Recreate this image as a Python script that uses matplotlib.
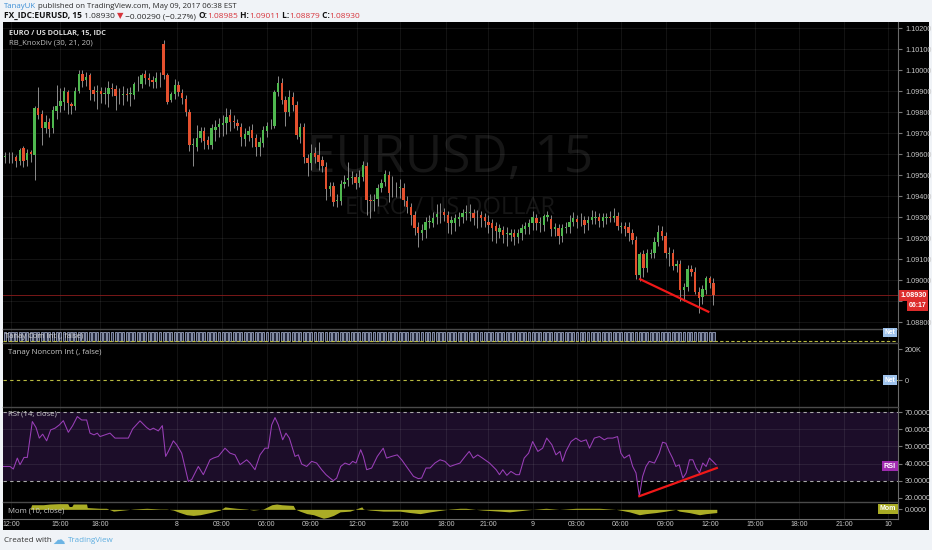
import matplotlib
matplotlib.use('Agg')
import matplotlib.pyplot as plt
import numpy as np
from matplotlib.text import Annotation

plt.rcParams['font.family'] = ['Open Sans', 'DejaVu Sans']

# ---- price data, value = (price - 1) * 100000 ----
opens = [9587, 9586, 9588, 9587, 9567, 9627, 9572, 9611, 9595, 9818,
         9789, 9722, 9751, 9722, 9805, 9830, 9849, 9897, 9837, 9830,
         9900, 9980, 9953, 9976, 9905, 9896, 9900, 9888, 9884, 9916,
         9908, 9880, 9883, 9885, 9888, 9881, 9931, 9932, 9980, 9964,
         9953, 9942, 9960, 10122, 9976, 9857, 9884, 9929, 9889, 9862,
         9802, 9645, 9635, 9675, 9710, 9667, 9643, 9714, 9730, 9738,
         9746, 9786, 9755, 9749, 9730, 9670, 9690, 9714, 9675, 9632,
         9654, 9711, 9737, 9733, 9897, 9940, 9857, 9802, 9873, 9833,
         9683, 9730, 9579, 9556, 9603, 9595, 9571, 9540, 9432, 9448,
         9377, 9378, 9457, 9476, 9488, 9489, 9463, 9492, 9543, 9379,
         9377, 9384, 9437, 9468, 9500, 9424, 9436, 9439, 9440, 9378,
         9346, 9310, 9254, 9222, 9238, 9277, 9273, 9298, 9313, 9325,
         9310, 9270, 9273, 9289, 9302, 9317, 9320, 9317, 9309, 9310,
         9299, 9278, 9270, 9257, 9230, 9238, 9221, 9214, 9222, 9206,
         9222, 9241, 9251, 9270, 9294, 9270, 9262, 9299, 9289, 9241,
         9246, 9210, 9246, 9254, 9278, 9289, 9285, 9286, 9270, 9286,
         9297, 9298, 9283, 9297, 9299, 9294, 9305, 9253, 9257, 9254,
         9225, 9190, 9024, 9124, 9056, 9124, 9127, 9183, 9235, 9210,
         9126, 9127, 9067, 9076, 8952, 8968, 9051, 9040, 8945, 8917,
         8952, 9008, 8985]
closes = [9588, 9588, 9585, 9567, 9619, 9567, 9603, 9600, 9818, 9786,
          9722, 9754, 9719, 9810, 9830, 9852, 9900, 9842, 9830, 9900,
          9980, 9950, 9969, 9905, 9884, 9898, 9884, 9890, 9916, 9908,
          9878, 9882, 9885, 9883, 9890, 9932, 9933, 9976, 9964, 9953,
          9945, 9961, 9962, 9976, 9849, 9884, 9929, 9894, 9869, 9802,
          9643, 9647, 9678, 9710, 9662, 9643, 9722, 9730, 9742, 9746,
          9778, 9751, 9753, 9733, 9680, 9695, 9711, 9675, 9632, 9659,
          9714, 9733, 9739, 9897, 9940, 9857, 9802, 9873, 9833, 9690,
          9730, 9587, 9556, 9606, 9587, 9563, 9545, 9432, 9448, 9373,
          9379, 9457, 9468, 9484, 9490, 9463, 9492, 9548, 9381, 9377,
          9379, 9437, 9463, 9505, 9413, 9426, 9438, 9441, 9381, 9349,
          9310, 9246, 9225, 9238, 9278, 9279, 9294, 9314, 9315, 9310,
          9273, 9286, 9294, 9302, 9317, 9325, 9322, 9294, 9311, 9294,
          9283, 9262, 9246, 9235, 9246, 9214, 9223, 9225, 9206, 9225,
          9246, 9257, 9270, 9298, 9270, 9278, 9305, 9310, 9241, 9251,
          9210, 9246, 9254, 9278, 9294, 9278, 9287, 9262, 9286, 9302,
          9299, 9283, 9298, 9299, 9297, 9305, 9257, 9255, 9241, 9225,
          9190, 9024, 9124, 9056, 9127, 9130, 9183, 9230, 9210, 9127,
          9128, 9067, 9076, 8952, 8968, 9051, 9040, 8945, 8913, 8956,
          9008, 8984, 8930]
# wick lengths in pips above / below the body
wick_up = [2, 2, 2, 1, 1, 1, 2, 1, 1, 10, 2, 3, 2, 2, 10, 6, 2, 1, 1, 2,
           2, 2, 2, 1, 2, 3, 2, 3, 3, 2, 2, 3, 4, 3, 3, 1, 4, 1, 2, 2,
           2, 3, 3, 2, 1, 1, 3, 2, 2, 2, 1, 3, 6, 2, 2, 2, 2, 3, 3, 4,
           4, 3, 3, 2, 2, 3, 2, 3, 2, 2, 2, 2, 3, 1, 3, 2, 2, 3, 2, 2,
           2, 2, 2, 4, 3, 6, 2, 2, 2, 2, 3, 2, 3, 8, 3, 2, 3, 2, 2, 3,
           3, 2, 2, 2, 2, 7, 3, 4, 2, 2, 2, 2, 2, 3, 2, 3, 3, 5, 5, 2,
           2, 2, 2, 2, 2, 3, 4, 2, 2, 2, 2, 3, 2, 2, 2, 2, 3, 2, 2, 2,
           2, 2, 2, 3, 2, 2, 1, 2, 2, 2, 2, 2, 2, 3, 3, 2, 3, 2, 2, 3,
           3, 2, 2, 2, 3, 4, 2, 2, 2, 2, 2, 2, 1, 2, 2, 2, 2, 3, 2, 2,
           3, 2, 2, 2, 2, 2, 2, 2, 2, 2, 1, 1, 2.6]
wick_dn = [3, 3, 3, 3, 2, 3, 3, 4, 12, 2, 8, 2, 4, 2, 4, 3, 4, 5, 4, 2,
           1, 3, 3, 5, 3, 8, 4, 5, 6, 3, 7, 4, 5, 3, 6, 2, 3, 2, 3, 3,
           3, 3, 4, 2, 1, 1, 2, 2, 3, 2, 3, 10, 2, 2, 4, 2, 2, 5, 5, 5,
           5, 4, 3, 2, 4, 3, 3, 4, 4, 4, 2, 3, 2, 1, 2, 2, 7, 2, 3, 2,
           3, 3, 6, 3, 3, 4, 3, 5, 3, 2, 3, 2, 2, 3, 3, 3, 2, 2, 7, 8,
           5, 3, 2, 2, 4, 3, 4, 5, 3, 3, 5, 3, 7, 3, 4, 3, 2, 3, 4, 3,
           5, 5, 4, 3, 3, 3, 4, 3, 6, 4, 3, 4, 6, 6, 3, 4, 6, 3, 4, 3,
           3, 2, 3, 3, 3, 4, 3, 2, 3, 3, 4, 3, 2, 3, 2, 3, 3, 4, 3, 2,
           3, 3, 3, 3, 2, 2, 2, 3, 3, 4, 2, 2, 3, 4, 2, 2, 2, 2, 2, 2,
           6, 2, 3, 5, 5, 2, 2, 1, 7, 3, 2, 2, 5.1]

# ---- RSI (14, close): bar position, value ----
rsi_x = [-0.45, 1.36, 2.26, 3.34, 4.07, 5.15, 6.05, 7.41, 8.40, 9.30, 10.21, 11.29, 12.38, 13.55,
         14.72, 15.81, 17.16, 18.34, 19.60, 20.78, 22.13, 23.04, 24.12, 25.02, 25.75, 27.10, 28.46,
         29.81, 32.07, 33.42, 34.60, 36.59, 38.39, 39.30, 40.20, 41.55, 42.64, 43.54, 44.26, 45.62,
         46.52, 47.88, 49.68, 50.59, 52.39, 53.75, 55.56, 56.46, 57.81, 59.62, 60.98, 62.33, 63.69,
         65.49, 66.40, 67.75, 69.11, 70.46, 71.36, 72.27, 73.17, 74.08, 75.25, 76.15, 77.06, 78.59,
         79.49, 80.40, 81.75, 83.11, 84.46, 85.82, 86.99, 88.08, 88.98, 89.88, 90.97, 92.14, 93.32,
         94.22, 95.12, 96.39, 97.11, 98.01, 99.37, 100.9, 102.5, 103.4, 104.8, 106.3, 107.5, 108.8,
         110.7, 112.0, 112.9, 114.1, 115.2, 116.5, 117.9, 119.2, 120.6, 121.9, 123.3, 124.7,
         125.8, 126.9, 128.1, 129.4, 131.3, 133.1, 134.0, 134.9, 136.0, 137.1, 138.5, 139.4, 140.7,
         141.9, 143.0, 144.4, 145.7, 146.8, 148.2, 149.3, 150.4, 151.1, 152.0, 153.4, 154.7, 156.1,
         157.5, 158.4, 159.7, 161.1, 162.4, 163.3, 164.7, 166.0, 166.9, 167.8, 169.2, 170.1, 171.0,
         171.9, 172.8, 173.7, 174.6, 176.0, 177.3, 178.2, 179.1, 180.0, 180.9, 181.8, 182.7, 183.7,
         184.6, 185.5, 186.4, 187.3, 188.2, 189.1, 190.0, 190.9, 191.8, 192.7]
rsi_v = [38.3, 38.3, 36.8, 43.2, 39.3, 43.6, 43.6, 64.6, 61.1, 54.9, 57.2, 53.3, 59.7, 60.7,
         62.6, 65.1, 58.3, 62.2, 67.5, 65.5, 65.5, 57.8, 56.8, 57.8, 55.8, 56.8, 57.8,
         54.9, 54.9, 54.9, 60.3, 65.0, 61.1, 59.7, 60.7, 59.1, 62.2, 44.2, 47.1, 53.3,
         51.0, 46.1, 29.6, 30.6, 38.3, 33.5, 42.2, 43.2, 44.2, 49.0, 46.1, 45.1, 39.3,
         42.2, 40.3, 36.4, 45.1, 49.0, 49.0, 62.6, 66.9, 62.6, 53.9, 57.8, 54.9, 44.2,
         45.1, 39.7, 38.3, 41.3, 40.3, 36.4, 33.5, 31.5, 30.0, 31.5, 38.3, 40.3, 39.3,
         41.3, 40.3, 48.1, 44.2, 36.4, 37.4, 44.2, 49.0, 43.2, 44.2, 45.1, 42.2, 38.3,
         32.5, 31.2, 31.5, 37.4, 37.4, 40.3, 42.2, 41.3, 38.3, 39.3, 40.3, 44.2,
         47.1, 43.2, 45.1, 43.2, 40.3, 36.4, 33.5, 36.4, 33.1, 35.4, 33.5, 33.5, 43.2,
         46.1, 52.9, 47.1, 49.0, 54.9, 51.0, 45.1, 47.1, 41.3, 47.1, 52.9, 54.9, 52.9,
         53.9, 49.0, 54.9, 55.8, 53.9, 54.9, 54.9, 55.8, 46.1, 43.2, 45.1, 38.3, 34.5,
         20.9, 32.5, 38.3, 41.3, 40.3, 46.1, 52.5, 51.9, 47.1, 43.2, 38.3, 39.3, 31.5,
         34.5, 42.2, 42.2, 37.4, 34.5, 40.3, 38.3, 43.2, 41.3, 39.3]

# ---- Mom (10, close) ----
mom_x = [-0.45, 6.77, 7.23, 10.4, 12.2, 14.5, 17.0, 17.4, 18.1, 18.5, 22.1, 22.3, 25.7, 27.5,
         29.4, 32.1, 34.8, 38.4, 42.0, 43.8, 45.6, 47.4, 49.2, 51.0, 52.9, 55.6, 58.3, 59.6,
         61.0, 62.8, 65.5, 67.3, 70.0, 72.3, 73.6, 75.0, 78.1, 78.6, 79.9, 81.8, 83.6, 86.3,
         87.6, 89.0, 90.8, 93.5, 96.7, 97.1, 98.9, 102.5, 104.8, 107.0, 109.8, 112.5, 115.2,
         117.9, 120.6, 123.3, 124.9, 129.4, 134.0, 136.7, 139.4, 143.0, 146.6, 150.2, 154.7,
         161.1, 165.6, 169.2, 171.9, 173.7, 176.4, 179.1, 181.8, 182.7, 185.4, 188.2, 190.0, 192.9]
mom_v = [0, 0, 0.0026, 0.0026, 0.0030, 0.0032, 0.0032, 0.0016, 0.0016, 0.0030, 0.0030, 0.0010,
         0.0006, 0.0006, -0.0010, -0.0004, 0.0002, 0.0006, 0.0002, 0.0002, -0.0004, -0.0018,
         -0.0030, -0.0034, -0.0030, -0.0018, -0.0004, 0.0014, 0.0010, 0.0006, 0.0002, -0.0004,
         0.0002, 0.0026, 0.0030, 0.0026, 0.0022, 0.0002, -0.0010, -0.0024, -0.0030, -0.0050,
         -0.0044, -0.0034, -0.0014, -0.0010, 0.0014, 0.0002, -0.0004, -0.0010, -0.0010, -0.0010,
         -0.0018, -0.0024, -0.0014, -0.0006, 0.0002, 0.0006, 0.0006, -0.0004, -0.0010, -0.0014,
         -0.0008, 0.0, 0.0006, 0.0, 0.0006, 0.0006, 0.0, -0.0014, -0.0030, -0.0024, -0.0018,
         -0.0010, 0.0, -0.0010, -0.0018, -0.0030, -0.0024, -0.0018]

time_pos = [1.6, 14.9, 25.7, 46.6, 58.8, 71.0, 82.9, 95.4, 107.0, 119.5, 130.9,
            143.1, 155.0, 166.9, 179.1, 191.1, 203.3, 215.2, 227.4, 239.3]
time_lab = ['12:00', '15:00', '18:00', '8', '03:00', '06:00', '09:00', '12:00', '15:00', '18:00',
            '21:00', '9', '03:00', '06:00', '09:00', '12:00', '15:00', '18:00', '21:00', '10']
price_ticks = [1.088, 1.089, 1.090, 1.091, 1.092, 1.093, 1.094, 1.095, 1.096, 1.097,
               1.098, 1.099, 1.100, 1.101, 1.102]
rsi_ticks = [20, 30, 40, 50, 60, 70]

price_div_x, price_div_y = [172.1, 190.6], [1.09004, 1.08849]
rsi_div_x, rsi_div_y = [171.9, 192.9], [20.9, 37.4]
last_price = 1.08930

o = 1 + np.array(opens) / 1e5
c = 1 + np.array(closes) / 1e5
hi = np.maximum(o, c) + np.array(wick_up) / 1e4
lo = np.minimum(o, c) - np.array(wick_dn) / 1e4
bars = np.arange(len(o))

W, H = 932, 550
fig = plt.figure(figsize=(W / 100, H / 100), dpi=100, facecolor='#f0f3f7')


def box(top, bot, left=3, right=898):
    return [left / W, 1 - bot / H, (right - left) / W, (bot - top) / H]


def px(x, y):
    return x / W, 1 - y / H


bg = fig.add_axes(box(22, 530, 3, 929))
bg.set_facecolor('#000000')
bg.set_xticks([])
bg.set_yticks([])
for s in bg.spines.values():
    s.set_visible(False)

ax_p = fig.add_axes(box(22, 329))
ax_c = fig.add_axes(box(329, 343))
ax_n = fig.add_axes(box(343, 407))
ax_r = fig.add_axes(box(407, 501.5))
ax_m = fig.add_axes(box(501.5, 519))
panels = [ax_p, ax_c, ax_n, ax_r, ax_m]

grid_kw = dict(color='white', alpha=0.075, lw=0.8)
for ax in panels:
    ax.set_facecolor('none')
    ax.set_xlim(-0.54, 242.0)
    ax.set_xticks(time_pos)
    ax.xaxis.grid(True, **grid_kw)
    ax.set_axisbelow(True)
    ax.tick_params(axis='x', length=0, labelbottom=False)
    ax.yaxis.tick_right()
    ax.tick_params(axis='y', length=3, color='#777777', labelcolor='#c8c8c8',
                   labelsize=5.2, pad=2, labelfontfamily='Liberation Sans')
    for name, s in ax.spines.items():
        s.set_visible(name in ('right', 'top'))
    ax.spines['right'].set_color('#6a6a6a')
    ax.spines['right'].set_linewidth(0.8)
    ax.spines['top'].set_color('#4a4a4a')
    ax.spines['top'].set_linewidth(1.0)
ax_p.spines['top'].set_visible(False)

# ---- price panel ----
ax_p.set_ylim(1.087667, 1.102286)
ax_p.set_yticks(price_ticks, ['' if abs(p - 1.089) < 1e-9 else f'{p:.5f}' for p in price_ticks])
ax_p.yaxis.grid(True, **grid_kw)
up = c >= o
cols = np.where(up, '#4fb84f', '#e4502e')
ax_p.vlines(bars, lo, hi, color='#8c8c8c', lw=0.7, zorder=2)
ax_p.bar(bars, np.maximum(np.abs(c - o), 0.000012), bottom=np.minimum(o, c),
         width=0.65, color=cols, lw=0, zorder=3)
ax_p.axhline(last_price, color='#8b1c1c', lw=0.6, zorder=1)
ax_p.plot(price_div_x, price_div_y, color='#f01818', lw=1.6, zorder=4)
ax_p.text(0.4995, 0.555, 'EURUSD, 15', transform=ax_p.transAxes, ha='center', va='center',
          fontsize=37, color='#161616', zorder=0)
ax_p.text(0.4995, 0.395, 'EURO / US DOLLAR', transform=ax_p.transAxes, ha='center',
          va='center', fontsize=17, color='#161616', zorder=0)

# ---- Tanay Com Int strip ----
com_vals = np.ones(len(o))
ax_c.set_ylim(-0.16, 1.33)
ax_c.set_yticks([])
ax_c.bar(bars, com_vals, width=0.62, color='#262b40', edgecolor='#b3bedc', lw=0.5, zorder=2)
ax_c.axhline(0, color='#b8ba40', lw=0.8, ls=(0, (3, 2)), zorder=3)

# ---- Tanay Noncom Int ----
ax_n.set_ylim(-174, 238.7)
ax_n.set_yticks([0, 200], ['0', '200K'])
ax_n.axhline(0, color='#b8ba40', lw=0.8, ls=(0, (3, 3)))

# ---- RSI ----
ax_r.set_ylim(17.8, 73.1)
ax_r.set_yticks(rsi_ticks, [f'{v:.4f}' for v in rsi_ticks])
ax_r.axhspan(30, 70, color='#1c0d29', lw=0, zorder=0)
for lvl in (40, 50, 60):
    ax_r.axhline(lvl, zorder=1, **grid_kw)
for lvl in (30, 70):
    ax_r.axhline(lvl, color='#a9a9a9', lw=0.8, ls=(0, (3, 3)), zorder=2)
ax_r.plot(rsi_x, rsi_v, color='#9a3fb8', lw=0.75, zorder=3)
ax_r.plot(rsi_div_x, rsi_div_y, color='#f01818', lw=1.6, zorder=4)

# ---- Momentum ----
ax_m.set_ylim(-0.0054, 0.0044)
ax_m.set_yticks([0], ['0.0000'])
ax_m.fill_between(mom_x, mom_v, 0, color='#abad26', lw=0, zorder=2)
ax_m.tick_params(axis='x', labelbottom=True, labelcolor='#c8c8c8', labelsize=5,
                 pad=1.5, labelfontfamily='Liberation Sans')
ax_m.set_xticks(time_pos, time_lab)
ax_m.spines['bottom'].set_visible(True)
ax_m.spines['bottom'].set_color('#6a6a6a')

# ---- right-axis badges ----
def badge(x, y, s, fc, tc='white', size=5.2):
    fig.text(*px(x, y), s, ha='center', va='center', color=tc, fontsize=size,
             family='Liberation Sans', weight='bold',
             bbox=dict(boxstyle='square,pad=0.22', fc=fc, ec='none'), zorder=6)

badge(913.5, 295.5, '1.08930', '#dd2c2c', size=5.2)
badge(917.5, 305.5, '06:17', '#dd2c2c', size=5.0)
badge(890, 332.5, 'Net', '#9fc3ec', size=4.8)
badge(890, 380, 'Net', '#9fc3ec', size=4.8)
badge(890, 466, 'RSI', '#a02bb0', size=5.2)
badge(888, 509, 'Mom', '#a8ab24', size=5.0)

# ---- panel titles ----
fig.text(*px(9, 33.5), 'EURO / US DOLLAR, 15, IDC', color='#d8d8d8', fontsize=5.3,
         weight='bold', va='center')
fig.text(*px(9, 43.5), 'RB_KnoxDiv (30, 21, 20)', color='#bdbdbd', fontsize=5.6, va='center')
fig.text(*px(5, 337), 'Tanay Com Int (, false)', color='#d0d0d0', fontsize=5.5, va='center')
fig.text(*px(8, 353), 'Tanay Noncom Int (, false)', color='#c8c8c8', fontsize=5.6, va='center')
fig.text(*px(8, 414), 'RSI (14, close)', color='#c8c8c8', fontsize=5.6, va='center')
fig.text(*px(8, 511), 'Mom (10, close)', color='#c8c8c8', fontsize=5.6, va='center')


# ---- header lines ----
def chain(parts, x, y, size=6.0):
    prev = None
    for s, col, wt in parts:
        if prev is None:
            prev = fig.text(*px(x, y), s, color=col, weight=wt, fontsize=size, va='bottom')
        else:
            prev = Annotation(s, xy=(1, 0), xycoords=prev, va='bottom', ha='left',
                              color=col, weight=wt, fontsize=size)
            fig.add_artist(prev)

dark = '#2b2b2b'
red = '#d7353c'
chain([('TanayUK', '#3d8fd6', 'normal'),
       (' published on TradingView.com, May 09, 2017 06:38 EST', dark, 'normal')], 4, 10.5,
      size=5.6)
chain([('FX_IDC:EURUSD, 15', '#111111', 'bold'), (' 1.08930 ', dark, 'normal'),
       ('▼', red, 'normal'), (' −0.00290 (−0.27%) ', dark, 'normal'),
       ('O:', '#111111', 'bold'), ('1.08985', red, 'normal'),
       (' H:', '#111111', 'bold'), ('1.09011', red, 'normal'),
       (' L:', '#111111', 'bold'), ('1.08879', red, 'normal'),
       (' C:', '#111111', 'bold'), ('1.08930', red, 'normal')], 4, 20)

# ---- footer ----
fig.text(*px(4, 540), 'Created with', color='#333333', fontsize=5.8, va='center')
fig.text(*px(52, 540), '☁', color='#6cb4e4', fontsize=9, va='center', family='DejaVu Sans')
fig.text(*px(68, 540), 'TradingView', color='#5eaee0', fontsize=5.8, va='center')

fig.savefig('out.png', dpi=100, facecolor=fig.get_facecolor())
